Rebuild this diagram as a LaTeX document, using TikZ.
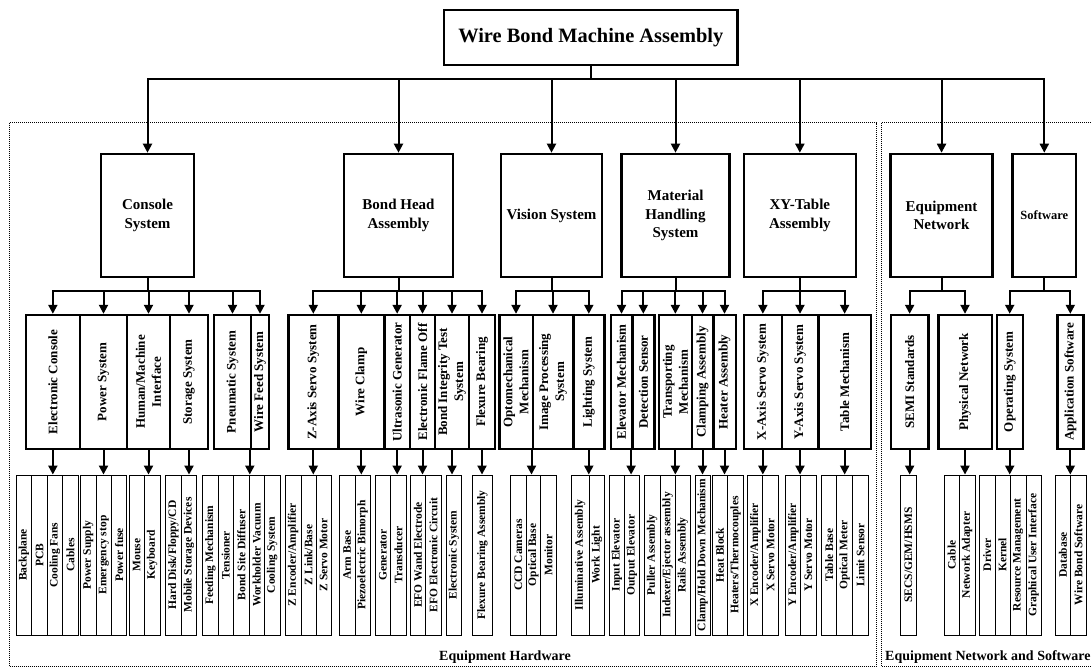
\documentclass[tikz,border=0pt]{standalone}
\usepackage{fontspec}
\setmainfont{Liberation Serif}
\usetikzlibrary{arrows.meta}

\tikzset{
  topbox/.style={draw, line width=2.6pt, minimum width=293.5pt, minimum height=55pt,
    inner sep=0pt, font=\fontsize{20.4}{24}\selectfont\bfseries},
  sysbox/.style={draw, line width=2.6pt, minimum height=123pt, inner sep=0pt,
    align=center, font=\fontsize{15}{18.7}\selectfont\bfseries},
  subbox/.style={draw, line width=2.4pt, rotate=90, minimum width=134pt, inner sep=0pt,
    align=center, font=\fontsize{13}{16}\selectfont\bfseries},
  leafbox/.style={draw, line width=0.9pt, rotate=90, minimum width=160pt, inner sep=0pt,
    font=\fontsize{11.5}{13}\selectfont\bfseries},
  conn/.style={line width=2pt, -{Triangle[width=9pt,length=9pt]}},
  zonebox/.style={densely dotted, line width=1pt},
  zonelabel/.style={inner sep=0pt, font=\fontsize{14}{16}\selectfont\bfseries},
}

% level-1 system box: name, left, right, text
\newcommand\sysnode[4]{\node[sysbox, minimum width={#3-#2}] (#1) at ({(#2+#3)/2},215.5) {#4};}
% level-2 subsystem box (vertical text)
\newcommand\subnode[4]{\node[subbox, minimum height={#3-#2}] (#1) at ({(#2+#3)/2},382) {#4};}
% level-3 component cell (vertical text)
\newcommand\leafnode[4]{\node[leafbox, minimum height={#3-#2}] (#1) at ({(#2+#3)/2},555) {#4};}

\begin{document}
\begin{tikzpicture}[x=1pt, y=-1pt]
\useasboundingbox (0,0) rectangle (1092,669);

% grouping frames
\draw[zonebox] (9,122.7) rectangle (876.7,666);
\draw[zonebox] (881.7,122.7) rectangle (1100,666);
\node[zonelabel] (hwlabel) at (505,657) {Equipment Hardware};
\node[zonelabel, anchor=west] (nwlabel) at (885,657) {Equipment Network and Software};

% root
\node[topbox] (top) at (590.8,37.5) {Wire Bond Machine Assembly};

% level 1
\sysnode{console}{101}{194}{Console\\System}
\sysnode{bond}{344}{453}{Bond Head\\Assembly}
\sysnode{vision}{501}{602}{Vision System}
\sysnode{mh}{621.5}{729.5}{Material\\Handling\\System}
\sysnode{xy}{743.8}{855.9}{XY-Table\\Assembly}
\sysnode{eqnet}{890.7}{992.4}{Equipment\\Network}
\node[sysbox, minimum width=63.4pt, font=\fontsize{12.5}{15}\selectfont\bfseries] (sw) at (1044.3,215.5) {Software};

% level 2
\subnode{ec}{25.7}{80}{Electronic Console}
\subnode{pwr}{80}{127}{Power System}
\subnode{hmi}{127}{170}{Human/Machine\\Interface}
\subnode{stor}{170}{208}{Storage System}
\subnode{pneu}{214}{251}{Pneumatic System}
\subnode{wfeed}{251}{269}{Wire Feed System}
\subnode{zaxis}{288.3}{338.3}{Z-Axis Servo System}
\subnode{wclamp}{338.3}{384.3}{Wire Clamp}
\subnode{usg}{384.3}{410}{Ultrasonic Generator}
\subnode{efo}{410}{435}{Electronic Flame Off}
\subnode{bit}{435}{469}{Bond Integrity Test\\System}
\subnode{flex}{469}{495}{Flexure Bearing}
\subnode{opto}{499.3}{532.7}{Optomechanical\\Mechanism}
\subnode{imgp}{532.7}{573.3}{Image Processing\\System}
\subnode{light}{573.3}{604.3}{Lighting System}
\subnode{elev}{610.7}{632.3}{Elevator Mechanism}
\subnode{detect}{632.3}{654.3}{Detection Sensor}
\subnode{transp}{659}{691.7}{Transporting\\Mechanism}
\subnode{clamp}{691.7}{713.3}{Clamping Assembly}
\subnode{heater}{713.3}{735.7}{Heater Assembly}
\subnode{xaxis}{744}{781.7}{X-Axis Servo System}
\subnode{yaxis}{781.7}{818.3}{Y-Axis Servo System}
\subnode{table}{818.3}{871}{Table Mechanism}
\subnode{semi}{891}{928.3}{SEMI Standards}
\subnode{phys}{938.3}{991.7}{Physical Network}
\subnode{os}{996.7}{1022.7}{Operating System}
\subnode{app}{1057.3}{1083.3}{Application Software}

% level 3
\leafnode{bp}{16}{31.7}{Backplane}
\leafnode{pcb}{31.7}{47.3}{PCB}
\leafnode{fans}{47.3}{62.7}{Cooling Fans}
\leafnode{cab}{62.7}{78.3}{Cables}
\leafnode{psu}{80}{96}{Power Supply}
\leafnode{estop}{96}{111.7}{Emergency stop}
\leafnode{fuse}{111.7}{126.7}{Power fuse}
\leafnode{mouse}{129.3}{144.3}{Mouse}
\leafnode{kbd}{144.3}{160}{Keyboard}
\leafnode{hdd}{165.7}{181}{Hard Disk/Floppy/CD}
\leafnode{msd}{181}{196.7}{Mobile Storage Devices}
\leafnode{feed}{202.7}{218.3}{Feeding Mechanism}
\leafnode{tens}{218.3}{233.3}{Tensioner}
\leafnode{diff}{233.3}{249.3}{Bond Site Diffuser}
\leafnode{vac}{249.3}{264.3}{Workholder Vacuum}
\leafnode{cool}{264.3}{280}{Cooling System}

\leafnode{zenc}{285}{301}{Z Encoder/Amplifier}
\leafnode{zlink}{301}{316}{Z Link/Base}
\leafnode{zmot}{316}{331}{Z Servo Motor}
\leafnode{arm}{339.3}{355}{Arm Base}
\leafnode{piezo}{355}{370}{Piezoelectric Bimorph}
\leafnode{gen}{375}{390.7}{Generator}
\leafnode{trans}{390.7}{406}{Transducer}
\leafnode{wand}{410}{425.7}{EFO Wand Electrode}
\leafnode{efoc}{425.7}{441}{EFO Electronic Circuit}
\leafnode{esys}{446}{461.7}{Electronic System}
\leafnode{fba}{472.7}{492.3}{Flexure Bearing Assembly}

\leafnode{ccd}{510.7}{526}{CCD Cameras}
\leafnode{obase}{526}{540.7}{Optical Base}
\leafnode{mon}{540.7}{556}{Monitor}
\leafnode{illum}{571}{589.3}{Illuminative Assembly}
\leafnode{wlight}{589.3}{604.3}{Work Light}

\leafnode{inel}{609.3}{624.3}{Input Elevator}
\leafnode{outel}{624.3}{639.3}{Output Elevator}
\leafnode{pull}{644.3}{660}{Puller Assembly}
\leafnode{idx}{660}{675}{Indexer/Ejector assembly}
\leafnode{rails}{675}{690.7}{Rails Assembly}
\leafnode{hold}{695}{710}{Clamp/Hold Down Mechanism}
\leafnode{hblock}{712.3}{727.7}{Heat Block}
\leafnode{thermo}{727.7}{743.3}{Heaters/Thermocouples}

\leafnode{xenc}{747.7}{762.7}{X Encoder/Amplifier}
\leafnode{xmot}{762.7}{778.3}{X Servo Motor}
\leafnode{yenc}{785.7}{800.7}{Y Encoder/Amplifier}
\leafnode{ymot}{800.7}{816}{Y Servo Motor}
\leafnode{tbase}{821.7}{836.7}{Table Base}
\leafnode{ometer}{836.7}{852.7}{Optical Meter}
\leafnode{limit}{852.7}{868.3}{Limit Sensor}

\leafnode{secs}{900}{916.7}{SECS/GEM/HSMS}
\leafnode{cable}{944}{959.3}{Cable}
\leafnode{nic}{959.3}{975}{Network Adapter}
\leafnode{drv}{979.3}{995}{Driver}
\leafnode{kern}{995}{1010}{Kernel}
\leafnode{res}{1010}{1026}{Resource Management}
\leafnode{gui}{1026}{1041}{Graphical User Interface}
\leafnode{db}{1055}{1070.7}{Database}
\leafnode{wbsw}{1070.7}{1086}{Wire Bond Software}

% root to systems
\coordinate (bus0) at (0,79);
\foreach \c in {console,bond,vision,mh,xy,eqnet,sw}
  \draw[conn] (top.south) -- (top.south |- bus0) -| (\c.north);

% systems to subsystems
\coordinate (bus1) at (0,291);
\foreach \p/\c in {console/ec, console/pwr, console/hmi, console/stor, console/pneu, console/wfeed,
                   bond/zaxis, bond/wclamp, bond/usg, bond/efo, bond/bit, bond/flex,
                   vision/opto, vision/imgp, vision/light,
                   mh/elev, mh/detect, mh/transp, mh/clamp, mh/heater,
                   xy/xaxis, xy/yaxis, xy/table,
                   eqnet/semi, eqnet/phys, sw/os, sw/app}
  \draw[conn] (\p.south) -- (\p.south |- bus1) -| (\c.east);

% subsystems to components
\foreach \s/\l in {ec/fans, pwr/estop, hmi/kbd, stor/hdd,
                   zaxis/zlink, wclamp/piezo, usg/trans, efo/efoc, bit/esys, flex/fba,
                   light/illum, transp/idx, clamp/hold, heater/hblock,
                   xaxis/xenc, yaxis/yenc, table/tbase,
                   semi/secs, phys/nic, os/kern, app/db}
  \draw[conn] (\s.west) -- (\s.west |- \l.east);

% shared feeds from adjacent subsystem pairs
\coordinate (pw) at (pneu.west -| wfeed.north);
\draw[conn] (pw) -- (pw |- feed.east);
\coordinate (oi) at (opto.west -| imgp.north);
\draw[conn] (oi) -- (oi |- ccd.east);
\coordinate (ed) at (elev.west -| detect.north);
\draw[conn] (ed) -- (ed |- inel.east);
\end{tikzpicture}
\end{document}
